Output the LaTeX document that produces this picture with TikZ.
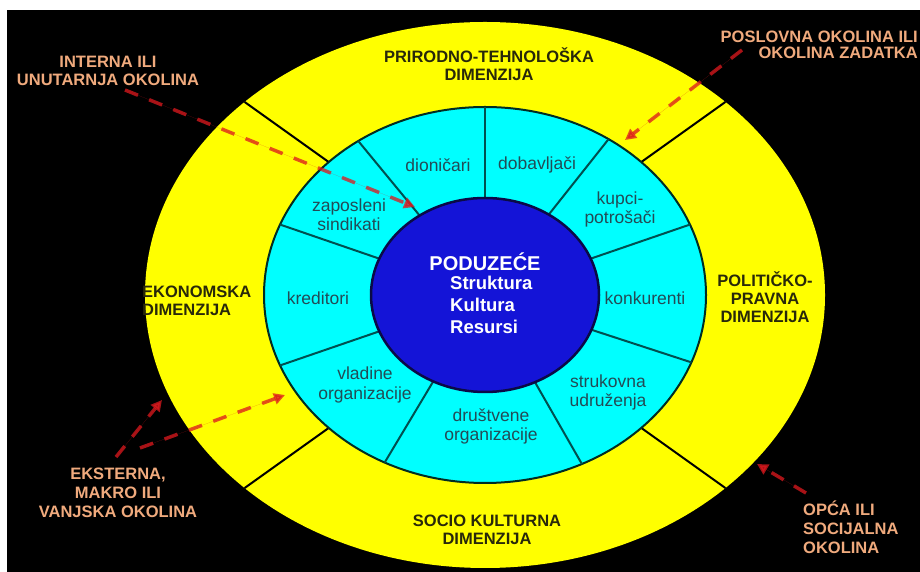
\documentclass[tikz,border=0pt]{standalone}
\usepackage{fontspec}
\setmainfont{Liberation Sans}
\usetikzlibrary{arrows.meta,calc}
\definecolor{ylw}{RGB}{255,255,0}
\definecolor{cyn}{RGB}{0,255,255}
\definecolor{blu}{RGB}{20,20,215}
\definecolor{peach}{RGB}{240,170,125}
\definecolor{darkteal}{RGB}{35,75,85}
\definecolor{olivetext}{RGB}{40,40,10}
\definecolor{arrowred}{RGB}{220,25,30}
\definecolor{ringline}{RGB}{0,45,35}
\definecolor{tealline}{RGB}{0,80,80}
\definecolor{navyline}{RGB}{10,10,70}
\begin{document}
\begin{tikzpicture}[x=1pt,y=1pt,
  dimlabel/.style={font=\bfseries\fontsize{16.5}{18}\selectfont, text=olivetext, align=center, inner sep=0pt},
  seglabel/.style={font=\fontsize{17.5}{19}\selectfont, text=darkteal, align=center, inner sep=0pt},
  outlabel/.style={font=\bfseries\fontsize{16.5}{18}\selectfont, text=peach, align=center, inner sep=0pt},
  redarrow/.style={draw=arrowred, fill=arrowred, opacity=0.75, line width=3.5pt, dash pattern=on 14pt off 12pt, -{Triangle[length=11pt,width=11pt]}},
  ydiv/.style={draw=black, line width=2pt},
  cdiv/.style={draw=tealline, line width=2pt}
]
\useasboundingbox (0,0) rectangle (920,572);
\fill[white] (0,0) rectangle (920,572);
\fill[black] (7,0) rectangle (920,562);

\coordinate (C) at (485,277);
% outer yellow ring
\fill[ylw] (C) ellipse [x radius=340, y radius=273];
\foreach \a in {45,135,225,315}
  \draw[ydiv] ($(C)+(\a:221 and 188)$) -- ($(C)+(\a:340 and 273)$);
% cyan ring
\filldraw[fill=cyn, draw=ringline, line width=2pt] (C) ellipse [x radius=221, y radius=188];
\foreach \a in {22,56,90,125,158,202,243,296,339}
  \draw[cdiv] ($(C)+(\a:114 and 97)$) -- ($(C)+(\a:221 and 188)$);
% blue core
\filldraw[fill=blu, draw=navyline, line width=2.5pt] (C) ellipse [x radius=114, y radius=97];

% dimension labels
\node[dimlabel] (ptd) at (489,508) {PRIRODNO-TEHNOLOŠKA\\DIMENZIJA};
\node[dimlabel, anchor=west, align=left] (ekd) at (142,271) {EKONOMSKA\\DIMENZIJA};
\node[dimlabel] (ppd) at (765,275) {POLITIČKO-\\PRAVNA\\DIMENZIJA};
\node[dimlabel] (skd) at (487,42) {SOCIO KULTURNA\\DIMENZIJA};

% segment labels
\node[seglabel] (dion) at (438,407) {dioničari};
\node[seglabel] (dob) at (537,407) {dobavljači};
\node[seglabel] (kup) at (620,363) {kupci-\\potrošači};
\node[seglabel] (zap) at (349,357) {zaposleni\\sindikati};
\node[seglabel] (kred) at (318,274) {kreditori};
\node[seglabel] (konk) at (645,274) {konkurenti};
\node[seglabel, font=\fontsize{17.5}{20}\selectfont] (vlad) at (365,187) {vladine\\organizacije};
\node[seglabel] (drus) at (491,146) {društvene\\organizacije};
\node[seglabel] (struk) at (608,179.5) {strukovna\\udruženja};

% core labels
\node[font=\bfseries\fontsize{20}{22}\selectfont, text=white, inner sep=0pt] (pod) at (485,310) {PODUZEĆE};
\node[font=\bfseries\fontsize{18.5}{22}\selectfont, text=white, align=left, anchor=west, inner sep=0pt] (skr) at (450,267) {Struktura\\Kultura\\Resursi};

% outside labels
\node[outlabel] (int) at (108,501) {INTERNA ILI\\UNUTARNJA OKOLINA};
\node[outlabel, font=\bfseries\fontsize{16.5}{16}\selectfont, align=right, anchor=east] (posl) at (918,527) {POSLOVNA OKOLINA ILI\\OKOLINA ZADATKA};
\node[outlabel, font=\bfseries\fontsize{16.5}{19}\selectfont] (eks) at (118,79) {EKSTERNA,\\MAKRO ILI\\VANJSKA OKOLINA};
\node[outlabel, font=\bfseries\fontsize{16.5}{19}\selectfont, align=left, anchor=west] (opca) at (803,45) {OPĆA ILI\\SOCIJALNA\\OKOLINA};

% red dashed arrows
\coordinate (a1s) at (125,482); \coordinate (a1e) at (415,365);
\coordinate (a2s) at (742,522); \coordinate (a2e) at (625,432);
\coordinate (a3s) at (116,115); \coordinate (a3e) at (162,172);
\coordinate (a4s) at (140,124); \coordinate (a4e) at (285,177);
\coordinate (a5s) at (806,79);  \coordinate (a5e) at (757,108);
\draw[redarrow] (a1s) -- (a1e);
\draw[redarrow] (a2s) -- (a2e);
\draw[redarrow] (a3s) -- (a3e);
\draw[redarrow] (a4s) -- (a4e);
\draw[redarrow] (a5s) -- (a5e);
\end{tikzpicture}
\end{document}
